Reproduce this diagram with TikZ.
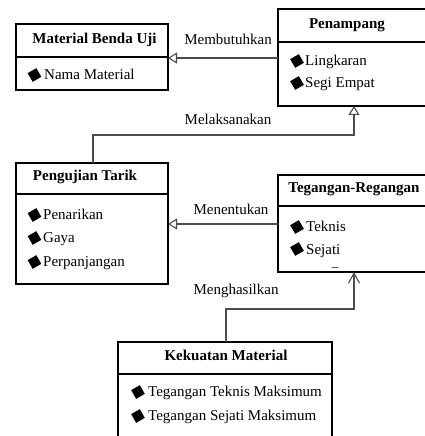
\documentclass[tikz,border=0pt]{standalone}
\usepackage{fontspec}
\setmainfont{Liberation Serif}
\usetikzlibrary{arrows.meta}
\begin{document}
\begin{tikzpicture}[x=1pt,y=1pt,
  font=\fontsize{15}{18}\selectfont,
  box/.style={draw=black, line width=1.6pt, anchor=north west, inner sep=0pt, outer sep=0pt},
  sep/.style={draw=black, line width=1.6pt},
  ttl/.style={font=\fontsize{15}{18}\selectfont\bfseries, inner sep=0pt, text height=10pt, text depth=3pt},
  txt/.style={inner sep=0pt, anchor=west, text height=10pt, text depth=3pt},
  lbl/.style={inner sep=0pt, text height=10pt, text depth=3pt},
  bul/.style={fill=black, draw=none, minimum size=10pt, inner sep=0pt, rotate=30},
  conn/.style={draw=black!70, line width=1.1pt},
  tri/.style={-{Triangle[open, length=9pt, width=11pt, line width=1.1pt]}},
  barb/.style={-{Straight Barb[length=10pt, width=11pt, line width=1.1pt]}}
]
\useasboundingbox (0,0) rectangle (425,436);
\clip (0,0) rectangle (425,436);

% Material Benda Uji
\node[box, minimum width=152pt, minimum height=66pt] (A) at (16,412) {};
\draw[sep] (16,379) -- (168,379);
\node[ttl] (At) at (94.5,396) {Material Benda Uji};
\node[bul] (Ab1) at (34.5,361) {};
\node[txt] (Ai1) at (44,360) {Nama Material};

% Penampang
\node[box, minimum width=162pt, minimum height=97pt] (B) at (278,427) {};
\draw[sep] (278,394) -- (440,394);
\node[ttl] (Bt) at (347,411) {Penampang};
\node[bul] (Bb1) at (297,375) {};
\node[txt] (Bi1) at (305,374) {Lingkaran};
\node[bul] (Bb2) at (297,353) {};
\node[txt] (Bi2) at (305,352) {Segi Empat};

% Pengujian Tarik
\node[box, minimum width=152pt, minimum height=121pt] (C) at (16,273) {};
\draw[sep] (16,242) -- (168,242);
\node[ttl] (Ct) at (85,259) {Pengujian Tarik};
\node[bul] (Cb1) at (34.5,221) {};
\node[txt] (Ci1) at (43,220) {Penarikan};
\node[bul] (Cb2) at (34.5,198) {};
\node[txt] (Ci2) at (43,197) {Gaya};
\node[bul] (Cb3) at (34.5,174) {};
\node[txt] (Ci3) at (43,173) {Perpanjangan};

% Tegangan-Regangan
\node[box, minimum width=162pt, minimum height=97pt] (D) at (278,261) {};
\draw[sep] (278,230) -- (440,230);
\node[ttl] (Dt) at (354,247) {Tegangan-Regangan};
\node[bul] (Db1) at (297,209) {};
\node[txt] (Di1) at (306,208) {Teknis};
\node[bul] (Db2) at (297,187) {};
\node[txt, anchor=base west, text height=, text depth=] (Di2) at (306,181.5) {Sejati};
\node[inner sep=0pt, anchor=base, font=\fontsize{13}{14}\selectfont] (Du) at (335,169.5) {\_};

% Kekuatan Material
\node[box, minimum width=214pt, minimum height=110pt] (E) at (118,94) {};
\draw[sep] (118,62) -- (332,62);
\node[ttl] (Et) at (226,79) {Kekuatan Material};
\node[bul] (Eb1) at (138,44) {};
\node[txt] (Ei1) at (148,43) {Tegangan Teknis Maksimum};
\node[bul] (Eb2) at (138,20) {};
\node[txt] (Ei2) at (148,19) {Tegangan Sejati Maksimum};

% connectors
\draw[conn, tri] (B.west |- 0,378) -- (A.east |- 0,378);
\node[lbl] (L1) at (228,395) {Membutuhkan};

\coordinate (m1) at (93,301);
\coordinate (m2) at (354,301);
\draw[conn, tri] (C.north -| m1) -- (m1) -- (m2) -- (B.south -| m2);
\node[lbl] (L2) at (228,315) {Melaksanakan};

\draw[conn, tri] (D.west |- 0,212) -- (C.east |- 0,212);
\node[lbl] (L3) at (231,225) {Menentukan};

\coordinate (h1) at (226,127);
\coordinate (h2) at (354,127);
\draw[conn, barb] (E.north -| h1) -- (h1) -- (h2) -- (D.south -| h2);
\node[lbl] (L4) at (236,145) {Menghasilkan};
\end{tikzpicture}
\end{document}
